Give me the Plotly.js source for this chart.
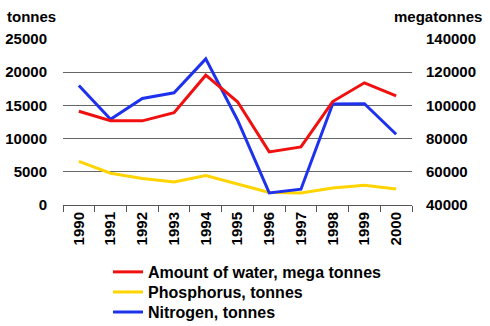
<!DOCTYPE html>
<html>
<head>
<meta charset="utf-8">
<script src="https://cdn.plot.ly/plotly-3.0.1.min.js"></script>
<style>html,body{margin:0;padding:0;background:#fff;}#chart{width:490px;height:326px;}</style>
</head>
<body>
<div id="chart"></div>
<script>
var years = ['1990','1991','1992','1993','1994','1995','1996','1997','1998','1999','2000'];
var water = [96500, 90800, 90700, 95600, 118200, 102200, 72000, 75000, 102300, 113600, 105700];
var phosphorus = [6560, 4790, 3990, 3480, 4440, 3200, 1900, 1810, 2570, 2980, 2420];
var nitrogen = [18000, 12900, 16050, 16900, 22000, 12800, 1820, 2380, 15200, 15250, 10650];
var names = ['Amount of water, mega tonnes', 'Phosphorus, tonnes', 'Nitrogen, tonnes'];
var colors = ['#f01010', '#ffd400', '#1e32ee'];

var fam = 'Liberation Sans, Arial, sans-serif';

var traces = [
  {x: years, y: water, name: '<b>' + names[0] + '</b>', yaxis: 'y2', legend: 'legend', type: 'scatter', mode: 'lines', line: {color: colors[0], width: 3}},
  {x: years, y: phosphorus, name: '<b>' + names[1] + '</b>', legend: 'legend2', type: 'scatter', mode: 'lines', line: {color: colors[1], width: 3}},
  {x: years, y: nitrogen, name: '<b>' + names[2] + '</b>', legend: 'legend3', type: 'scatter', mode: 'lines', line: {color: colors[2], width: 3}}
];

function leg(y) {
  return {x: 0.129, y: y, xanchor: 'left', yanchor: 'top', orientation: 'v',
          font: {family: fam, size: 16, color: '#000'}, bgcolor: 'rgba(0,0,0,0)'};
}

var layout = {
  width: 490, height: 326,
  margin: {l: 63, r: 78, t: 39, b: 121, pad: 0, autoexpand: false},
  paper_bgcolor: '#fff', plot_bgcolor: '#fff',
  font: {family: fam, size: 15, color: '#000'},
  showlegend: true,
  legend: leg(-0.301),
  legend2: leg(-0.422),
  legend3: leg(-0.543),
  xaxis: {type: 'category', categoryorder: 'array', categoryarray: years, range: [-0.5, 10.5],
          showgrid: false, showline: true, linecolor: '#555', linewidth: 1,
          ticks: 'outside', ticklen: 6, tickcolor: '#555', tickson: 'boundaries',
          tickangle: -90, tickfont: {family: fam, size: 15, color: '#000', weight: 'bold'},
          zeroline: false, automargin: false},
  yaxis: {range: [0, 25000], dtick: 5000, tick0: 0, tickformat: 'd',
          showgrid: true, gridcolor: '#666', gridwidth: 1, zeroline: false, showline: false,
          ticks: 'outside', ticklen: 12, tickcolor: 'rgba(0,0,0,0)', automargin: false,
          tickfont: {family: fam, size: 15, color: '#000', weight: 'bold'}},
  yaxis2: {range: [40000, 140000], dtick: 20000, tick0: 40000, tickformat: 'd',
           overlaying: 'y', side: 'right', showgrid: false, zeroline: false, showline: false,
           ticks: 'outside', ticklen: 10, tickcolor: 'rgba(0,0,0,0)', automargin: false,
           tickfont: {family: fam, size: 15, color: '#000', weight: 'bold'}},
  annotations: [
    {text: '<b>tonnes</b>', xref: 'paper', yref: 'paper', x: -0.167, y: 1.07, xanchor: 'left', yanchor: 'bottom',
     showarrow: false, font: {family: fam, size: 15, color: '#000'}},
    {text: '<b>megatonnes</b>', xref: 'paper', yref: 'paper', x: 1.206, y: 1.07, xanchor: 'right', yanchor: 'bottom',
     showarrow: false, font: {family: fam, size: 15, color: '#000'}}
  ]
};

Plotly.newPlot('chart', traces, layout, {displayModeBar: false, staticPlot: true});
</script>
</body>
</html>
